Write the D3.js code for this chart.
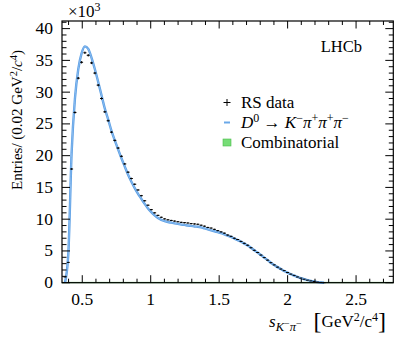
<!DOCTYPE html>
<html>
<head>
<meta charset="utf-8">
<script src="https://cdn.jsdelivr.net/npm/d3@7"></script>
<style>
  body { margin: 0; background: #fff; }
  text { font-family: "Liberation Serif", "DejaVu Serif", serif; fill: #000; }
</style>
</head>
<body>
<script>
// bin layout (centres in GeV^2/c^4)
var firstCentre = 0.3738;
var binStep = 0.02426;

// RS data, entries in units of 10^3
var dataValues = [0.9, 3.2, 17.9, 26.8, 32.2, 34.7, 36.2, 35.8, 34.6, 33.0,
  31.1, 29.0, 26.9, 25.5, 23.7, 22.4, 21.2, 19.9, 18.7, 17.4,
  16.4, 15.5, 14.6, 13.7, 12.9, 12.2, 11.5, 11.0, 10.6, 10.3,
  10.05, 9.9, 9.8, 9.7, 9.6, 9.5, 9.45, 9.4, 9.3, 9.25,
  9.2, 9.05, 8.9, 8.7, 8.6, 8.4, 8.2, 8.0, 7.8, 7.5,
  7.3, 7.0, 6.8, 6.5, 6.2, 5.9, 5.5, 5.1, 4.75, 4.35,
  3.95, 3.55, 3.15, 2.8, 2.45, 2.15, 1.9, 1.6, 1.35, 1.15,
  0.9, 0.72, 0.55, 0.4, 0.28, 0.18, 0.1, 0.04, 0.0];

// D0 -> K pi pi pi fit model
var fitValues = [0.0, 4.5, 20.5, 29.0, 33.6, 36.1, 37.2, 36.8, 35.4, 33.6,
  31.6, 29.5, 27.4, 25.7, 23.9, 22.4, 21.0, 19.6, 18.3, 17.0,
  15.9, 14.9, 14.0, 13.2, 12.4, 11.7, 11.1, 10.6, 10.2, 9.9,
  9.7, 9.55, 9.45, 9.35, 9.25, 9.15, 9.1, 9.0, 8.95, 8.85,
  8.8, 8.7, 8.55, 8.4, 8.25, 8.1, 7.95, 7.8, 7.6, 7.4,
  7.2, 6.95, 6.7, 6.45, 6.15, 5.85, 5.5, 5.1, 4.75, 4.35,
  3.95, 3.55, 3.15, 2.8, 2.45, 2.15, 1.85, 1.58, 1.33, 1.12,
  0.9, 0.72, 0.55, 0.4, 0.28, 0.18, 0.1, 0.04, 0.0];

// combinatorial background (essentially zero)
var combValues = [0.05, 0.05];
var combRange = [0.352, 2.772];

var xTicks = [0.5, 1, 1.5, 2, 2.5];
var yTicks = [0, 5, 10, 15, 20, 25, 30, 35, 40];

var W = 399, H = 339;
var pLeft = 62, pRight = 393.3, pTop = 21, pBottom = 282.7;

var svg = d3.select('body').append('svg')
    .attr('width', W)
    .attr('height', H);

var x = d3.scaleLinear().domain([0.352, 2.772]).range([pLeft, pRight]);
var y = d3.scaleLinear().domain([0, 41.2]).range([pBottom, pTop]);

var centre = i => firstCentre + i * binStep;

// combinatorial
svg.append('path')
    .datum(combRange.map((d, i) => [d, combValues[i]]))
    .attr('d', d3.area().x(d => x(d[0])).y0(y(0)).y1(d => y(d[1])))
    .attr('fill', '#77dd77')
    .attr('stroke', '#3fae3f')
    .attr('stroke-width', 0.8);

// fit band
var fitLine = d3.line()
    .x((d, i) => x(centre(i)))
    .y(d => y(d))
    .curve(d3.curveMonotoneX);

svg.append('path')
    .datum(fitValues)
    .attr('d', fitLine)
    .attr('fill', 'none')
    .attr('stroke', '#5c9fe4')
    .attr('stroke-width', 2.4);

svg.append('path')
    .datum(fitValues)
    .attr('d', fitLine)
    .attr('fill', 'none')
    .attr('stroke', '#8cbdf0')
    .attr('stroke-width', 0.9);

// data points
var pts = svg.append('g').attr('stroke', '#000').attr('stroke-width', 1);
dataValues.forEach(function(v, i) {
    var c = centre(i);
    var e = Math.sqrt(v * 1000) / 1000;
    pts.append('line')
        .attr('x1', x(c - binStep * 0.45)).attr('x2', x(c + binStep * 0.45))
        .attr('y1', y(v)).attr('y2', y(v));
    pts.append('line')
        .attr('x1', x(c)).attr('x2', x(c))
        .attr('y1', y(v - e) ).attr('y2', y(v + e));
});

// frame + ticks
svg.append('rect')
    .attr('x', pLeft).attr('y', pTop)
    .attr('width', pRight - pLeft).attr('height', pBottom - pTop)
    .attr('fill', 'none').attr('stroke', '#000').attr('stroke-width', 1.2);

var xMinor = d3.range(4, 28).map(d => d / 10).filter(d => xTicks.indexOf(d) < 0);
var yMinor = d3.range(0, 42).filter(d => d % 5 != 0);

var tk = svg.append('g').attr('stroke', '#000').attr('stroke-width', 1);
xTicks.concat(xMinor).forEach(function(t) {
    var L = xTicks.indexOf(t) >= 0 ? 7.5 : 4;
    tk.append('line').attr('x1', x(t)).attr('x2', x(t)).attr('y1', pBottom).attr('y2', pBottom - L);
    tk.append('line').attr('x1', x(t)).attr('x2', x(t)).attr('y1', pTop).attr('y2', pTop + L);
});
yTicks.concat(yMinor).forEach(function(t) {
    var L = yTicks.indexOf(t) >= 0 ? 8 : 4.5;
    tk.append('line').attr('y1', y(t)).attr('y2', y(t)).attr('x1', pLeft).attr('x2', pLeft + L);
    tk.append('line').attr('y1', y(t)).attr('y2', y(t)).attr('x1', pRight).attr('x2', pRight - L);
});

svg.selectAll('.xl').data(xTicks).enter().append('text')
    .attr('x', d => x(d)).attr('y', 305)
    .attr('text-anchor', 'middle')
    .style('font-size', '17.5px')
    .text(d => d);

svg.selectAll('.yl').data(yTicks).enter().append('text')
    .attr('x', 53).attr('y', d => y(d) + 5.5)
    .attr('text-anchor', 'end')
    .style('font-size', '17.5px')
    .text(d => d);

// x10^3
var mult = svg.append('text').attr('x', 68).attr('y', 17).style('font-size', '17px');
mult.append('tspan').text('\u00d710');
mult.append('tspan').attr('dy', -6).style('font-size', '12px').text('3');

// y title
var yt = svg.append('text')
    .attr('transform', 'translate(22,120) rotate(-90)')
    .attr('text-anchor', 'middle')
    .style('font-size', '15px');
yt.append('tspan').text('Entries/ (0.02 GeV');
yt.append('tspan').attr('dy', -5.5).style('font-size', '10.5px').text('2');
yt.append('tspan').attr('dy', 5.5).text('/');
yt.append('tspan').style('font-style', 'italic').text('c');
yt.append('tspan').attr('dy', -5.5).style('font-size', '10.5px').text('4');
yt.append('tspan').attr('dy', 5.5).text(')');

// x title
var xt = svg.append('text').attr('x', 386).attr('y', 327)
    .attr('text-anchor', 'end').style('font-size', '17px');
xt.append('tspan').style('font-style', 'italic').text('s');
xt.append('tspan').attr('dy', 3.5).style('font-size', '12.5px').style('font-style', 'italic').text('K');
xt.append('tspan').attr('dy', -3.5).style('font-size', '10px').text('\u2212');
xt.append('tspan').attr('dy', 3.5).style('font-size', '12.5px').style('font-style', 'italic').text('\u03c0');
xt.append('tspan').attr('dy', -3.5).style('font-size', '10px').text('\u2212');
xt.append('tspan').attr('dy', 2).style('font-size', '24px').text('\u2002[');
xt.append('tspan').attr('dy', -2).text('GeV');
xt.append('tspan').attr('dy', -6).style('font-size', '12px').text('2');
xt.append('tspan').attr('dy', 6).text('/c');
xt.append('tspan').attr('dy', -6).style('font-size', '12px').text('4');
xt.append('tspan').attr('dy', 8).style('font-size', '24px').text(']');

// LHCb
svg.append('text').attr('x', 362).attr('y', 52).attr('text-anchor', 'end')
    .style('font-size', '16.5px').text('LHCb');

// legend
var lg = svg.append('g');
lg.append('line').attr('x1', 223.5).attr('x2', 230.5).attr('y1', 102.5).attr('y2', 102.5).attr('stroke', '#000');
lg.append('line').attr('x1', 227).attr('x2', 227).attr('y1', 99).attr('y2', 106).attr('stroke', '#000');
lg.append('text').attr('x', 241).attr('y', 107.5).style('font-size', '17px').text('RS data');

lg.append('line').attr('x1', 224).attr('x2', 230).attr('y1', 122.5).attr('y2', 122.5)
    .attr('stroke', '#6aa8e8').attr('stroke-width', 2);
var lt = lg.append('text').attr('x', 241).attr('y', 128).style('font-size', '17px');
lt.append('tspan').style('font-style', 'italic').text('D');
lt.append('tspan').attr('dy', -6).style('font-size', '12px').text('0');
lt.append('tspan').attr('dy', 6).text(' \u2192 ');
lt.append('tspan').style('font-style', 'italic').text('K');
lt.append('tspan').attr('dy', -6).style('font-size', '12px').text('\u2212');
lt.append('tspan').attr('dy', 6).style('font-style', 'italic').text('\u03c0');
lt.append('tspan').attr('dy', -6).style('font-size', '12px').text('+');
lt.append('tspan').attr('dy', 6).style('font-style', 'italic').text('\u03c0');
lt.append('tspan').attr('dy', -6).style('font-size', '12px').text('+');
lt.append('tspan').attr('dy', 6).style('font-style', 'italic').text('\u03c0');
lt.append('tspan').attr('dy', -6).style('font-size', '12px').text('\u2212');

lg.append('rect').attr('x', 223).attr('y', 139).attr('width', 8).attr('height', 7)
    .attr('fill', '#77dd77').attr('stroke', '#4cbc4c').attr('stroke-width', 0.6);
lg.append('text').attr('x', 241).attr('y', 148).style('font-size', '17px').text('Combinatorial');
</script>
</body>
</html>
